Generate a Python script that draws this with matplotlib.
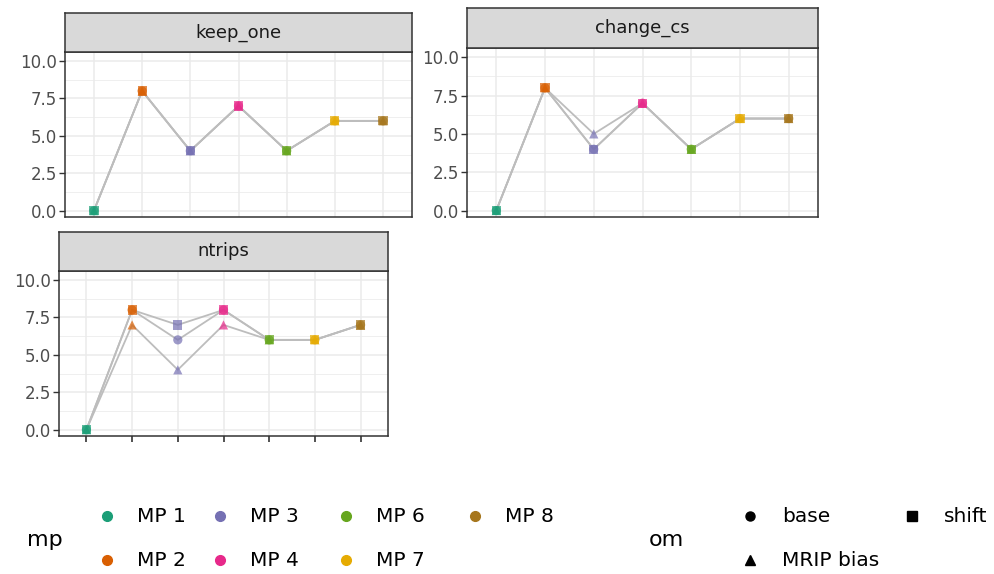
import matplotlib
matplotlib.use("Agg")
import matplotlib.pyplot as plt
from matplotlib.lines import Line2D

plt.rcParams['font.family'] = ['DejaVu Sans']

# Management procedures on the x axis, in plotting order
mps = ["MP 1", "MP 2", "MP 3", "MP 4", "MP 6", "MP 7", "MP 8"]
mp_colors = ["#1B9E77", "#D95F02", "#7570B3", "#E7298A", "#66A61E", "#E6AB02", "#A6761D"]

# Operating models
oms = ["base", "MRIP bias", "shift"]
om_markers = {"base": "o", "MRIP bias": "^", "shift": "s"}

# Values per metric and operating model (one value per MP)
keep_one = {
    "base":      [0, 8, 4, 7, 4, 6, 6],
    "MRIP bias": [0, 8, 4, 7, 4, 6, 6],
    "shift":     [0, 8, 4, 7, 4, 6, 6],
}
change_cs = {
    "base":      [0, 8, 4, 7, 4, 6, 6],
    "MRIP bias": [0, 8, 5, 7, 4, 6, 6],
    "shift":     [0, 8, 4, 7, 4, 6, 6],
}
ntrips = {
    "base":      [0, 8, 6, 8, 6, 6, 7],
    "MRIP bias": [0, 7, 4, 7, 6, 6, 7],
    "shift":     [0, 8, 7, 8, 6, 6, 7],
}

panels = [
    ("keep_one", keep_one, (65, 412, 52, 217, 13), False),
    ("change_cs", change_cs, (467, 818, 48, 217, 8), False),
    ("ntrips", ntrips, (59, 388, 271, 436, 232), True),
]

W, H = 994, 574
fig = plt.figure(figsize=(W / 100, H / 100), dpi=100)

def px_rect(l, r, t, b):
    return [l / W, 1 - b / H, (r - l) / W, (b - t) / H]

grid_col = "#EBEBEB"
border_col = "#333333"
text_col = "#4D4D4D"

for name, data, (l, r, t, b, st), show_xticks in panels:
    ax = fig.add_axes(px_rect(l, r, t, b))
    x = list(range(1, len(mps) + 1))
    ax.set_xlim(0.4, len(mps) + 0.6)
    ax.set_ylim(-0.42, 10.6)

    # grid: major and minor, theme_bw style
    for yv in [0, 2.5, 5, 7.5, 10]:
        ax.axhline(yv, color=grid_col, lw=1.1, zorder=0)
    for yv in [1.25, 3.75, 6.25, 8.75]:
        ax.axhline(yv, color=grid_col, lw=0.55, zorder=0)
    for xv in x:
        ax.axvline(xv, color=grid_col, lw=1.1, zorder=0)

    for om in oms:
        ax.plot(x, data[om], color="#BDBDBD", lw=1.3, zorder=1, solid_capstyle="round")
    for om in oms:
        ax.scatter(x, data[om], c=mp_colors, marker=om_markers[om], s=44,
                   alpha=0.7, edgecolors="none", zorder=2)

    ax.set_yticks([0, 2.5, 5, 7.5, 10])
    ax.set_yticklabels(["0.0", "2.5", "5.0", "7.5", "10.0"], fontsize=12, color=text_col)
    ax.tick_params(axis="y", length=4, width=1, color=border_col, pad=2)
    ax.set_xticks(x)
    ax.set_xticklabels([])
    if show_xticks:
        ax.tick_params(axis="x", length=4, width=1.2, color=border_col)
    else:
        ax.tick_params(axis="x", length=0)
    for sp in ax.spines.values():
        sp.set_color(border_col)
        sp.set_linewidth(1.1)

    # facet strip
    sax = fig.add_axes(px_rect(l, r, st, t))
    sax.set_facecolor("#D9D9D9")
    sax.set_xticks([])
    sax.set_yticks([])
    for sp in sax.spines.values():
        sp.set_color(border_col)
        sp.set_linewidth(1.1)
    sax.text(0.5, 0.5, name, ha="center", va="center", fontsize=13, color="#1A1A1A",
             transform=sax.transAxes)

# Legends along the bottom
def fx(px):
    return px / W

def fy(py):
    return 1 - py / H

fig.text(fx(27), fy(540), "mp", fontsize=16, va="center", ha="left", color="black")
mp_pos = [(107, 516), (107, 560), (220, 516), (220, 560), (346, 516), (346, 560), (475, 516)]
for (px, py), lab, col in zip(mp_pos, mps, mp_colors):
    fig.add_artist(Line2D([fx(px)], [fy(py)], marker="o", color=col, markersize=7,
                          linestyle="none", transform=fig.transFigure))
    fig.text(fx(px + 30), fy(py), lab, fontsize=14.5, va="center", ha="left", color="black")

fig.text(fx(649), fy(540), "om", fontsize=16, va="center", ha="left", color="black")
om_pos = {"base": (750, 516), "MRIP bias": (750, 560), "shift": (912, 516)}
for om in oms:
    px, py = om_pos[om]
    fig.add_artist(Line2D([fx(px)], [fy(py)], marker=om_markers[om], color="black",
                          markersize=6.5, linestyle="none", transform=fig.transFigure))
    fig.text(fx(px + 32), fy(py), om, fontsize=14.5, va="center", ha="left", color="black")

fig.savefig("out.png", dpi=100)
